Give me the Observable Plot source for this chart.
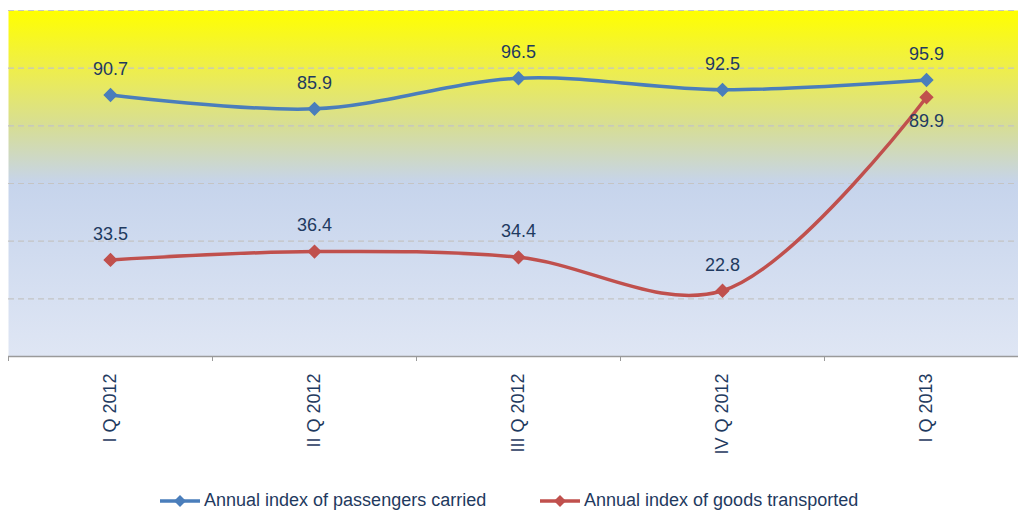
<!DOCTYPE html>
<html>
<head>
<meta charset="utf-8">
<script src="https://cdn.jsdelivr.net/npm/d3@7"></script>
<script src="https://cdn.jsdelivr.net/npm/@observablehq/plot@0.6"></script>
<style>
  html, body { margin: 0; padding: 0; background: #fff; overflow: hidden; width: 1018px; height: 510px; }
  #chart { width: 1018px; overflow: hidden; }
  #chart svg { display: block; max-width: none !important; }
  #legend { position: relative; height: 22px; font-family: "Liberation Sans", Arial, sans-serif; font-size: 18px; color: #1f3a60; }
  .item { position: absolute; top: 0; display: flex; align-items: center; white-space: nowrap; }
  .item svg { margin-right: 4px; }
</style>
</head>
<body>
<div id="chart"></div>
<div id="legend"></div>
<script>
const quarters = ["I Q 2012", "II Q 2012", "III Q 2012", "IV Q 2012", "I Q 2013"];
const passengers = [90.7, 85.9, 96.5, 92.5, 95.9];
const goods = [33.5, 36.4, 34.4, 22.8, 89.9];
const seriesNames = ["Annual index of passengers carried", "Annual index of goods transported"];
const seriesColors = ["#4a7ebb", "#c0504d"];
const gridValues = [20, 40, 60, 80, 100, 120];

const rows = [];
quarters.forEach((q, i) => {
  rows.push({i, q, series: seriesNames[0], value: passengers[i]});
  rows.push({i, q, series: seriesNames[1], value: goods[i]});
});
const pass = rows.filter(d => d.series === seriesNames[0]);
const good = rows.filter(d => d.series === seriesNames[1]);
const goodAbove = good.filter(d => d.i < quarters.length - 1);
const goodBelow = good.filter(d => d.i === quarters.length - 1);

const defs = () => {
  const g = d3.create("svg:defs");
  const lg = g.append("linearGradient").attr("id", "bgGrad").attr("x1", 0).attr("y1", 0).attr("x2", 0).attr("y2", 1);
  [[0, "#ffff00"], [0.17, "#eeee4c"], [0.34, "#d6dd98"], [0.5, "#c6d4ec"], [1, "#dfe6f4"]]
    .forEach(([o, c]) => lg.append("stop").attr("offset", o).attr("stop-color", c));
  return g.node();
};

const labelColor = "#1f3a60";
const chart = Plot.plot({
  width: 1028,
  height: 490,
  marginLeft: 8,
  marginRight: 0,
  marginTop: 10,
  marginBottom: 134,
  style: {fontFamily: "'Liberation Sans', Arial, sans-serif", background: "transparent"},
  x: {domain: [0, quarters.length], axis: null},
  y: {domain: [0, 120], axis: null},
  marks: [
    defs,
    Plot.frame({fill: "url(#bgGrad)", stroke: null}),
    Plot.ruleY(gridValues, {stroke: "#c4c4c4", strokeWidth: 1.2, strokeDasharray: "6,4"}),
    Plot.ruleY([0], {stroke: "#9a9a9a", strokeWidth: 1.5}),
    Plot.axisX(d3.range(quarters.length + 1), {tickSize: 5, tickFormat: () => "", stroke: "#9a9a9a"}),
    Plot.axisX(quarters.map((q, i) => i + 0.5), {
      tickSize: 0, tickRotate: -90, tickPadding: 17, fontSize: 18, fill: labelColor,
      tickFormat: v => quarters[Math.floor(v)]
    }),
    Plot.line(pass, {x: d => d.i + 0.5, y: "value", stroke: seriesColors[0], strokeWidth: 3.5, curve: "catmull-rom"}),
    Plot.line(good, {x: d => d.i + 0.5, y: "value", stroke: seriesColors[1], strokeWidth: 3.5, curve: "catmull-rom"}),
    Plot.dot(pass, {x: d => d.i + 0.5, y: "value", symbol: "diamond2", r: 5.5, fill: seriesColors[0], stroke: seriesColors[0], strokeWidth: 1.5}),
    Plot.dot(good, {x: d => d.i + 0.5, y: "value", symbol: "diamond2", r: 5.5, fill: seriesColors[1], stroke: seriesColors[1], strokeWidth: 1.5}),
    Plot.text(pass, {x: d => d.i + 0.5, y: "value", text: d => d.value.toFixed(1), dy: -26, fontSize: 18, fill: labelColor}),
    Plot.text(goodAbove, {x: d => d.i + 0.5, y: "value", text: d => d.value.toFixed(1), dy: -26, fontSize: 18, fill: labelColor}),
    Plot.text(goodBelow, {x: d => d.i + 0.5, y: "value", text: d => d.value.toFixed(1), dy: 24, fontSize: 18, fill: labelColor})
  ]
});
document.getElementById("chart").appendChild(chart);

// Legend
const legend = document.getElementById("legend");
const lefts = [160, 540];
seriesNames.forEach((name, k) => {
  const item = document.createElement("div");
  item.className = "item";
  item.style.left = lefts[k] + "px";
  item.innerHTML = `<svg width="40" height="14"><line x1="0" y1="7" x2="40" y2="7" stroke="${seriesColors[k]}" stroke-width="3.5"/><path d="M20,1 L26,7 L20,13 L14,7 Z" fill="${seriesColors[k]}"/></svg><span>${name}</span>`;
  legend.appendChild(item);
});
</script>
</body>
</html>
